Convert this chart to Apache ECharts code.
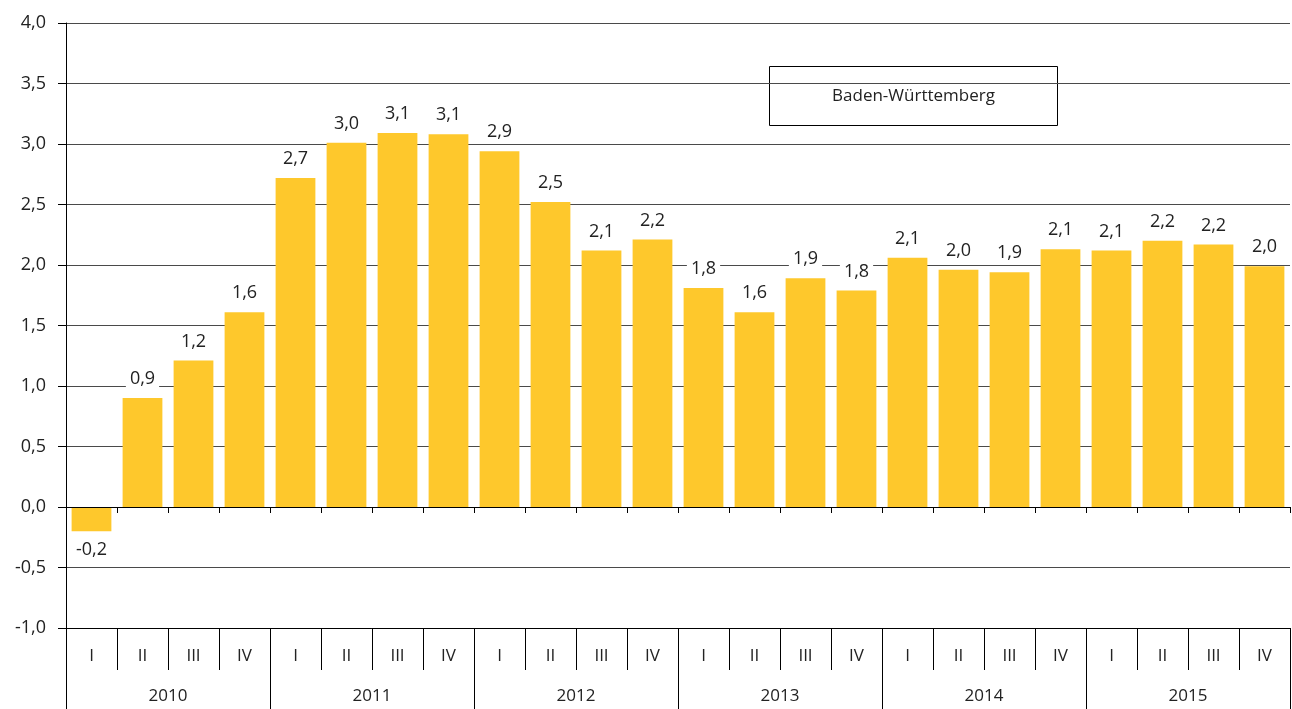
<!DOCTYPE html>
<html>
<head>
<meta charset="utf-8">
<script src="https://cdn.jsdelivr.net/npm/echarts@6/dist/echarts.min.js"></script>
<style>html,body{margin:0;padding:0;background:#fff;}#c{width:1292px;height:709px;}</style>
</head>
<body>
<div id="c"></div>
<script>
const years = ['2010','2011','2012','2013','2014','2015'];
const quarters = ['I','II','III','IV'];
const values = [-0.2, 0.90, 1.21, 1.61, 2.72, 3.01, 3.09, 3.08, 2.94, 2.52, 2.12, 2.21,
                1.81, 1.61, 1.89, 1.79, 2.06, 1.96, 1.94, 2.13, 2.12, 2.20, 2.17, 1.99];
const seriesName = 'Baden-Württemberg';
const yTicks = {min: -1, max: 4, interval: 0.5};

const categories = [];
years.forEach(y => quarters.forEach(q => categories.push(y + ' ' + q)));
const fmt = v => v.toFixed(1).replace('.', ',');
const FONT = '"Open Sans", "Noto Sans", sans-serif';
const TXT = '#222';

const chart = echarts.init(document.getElementById('c'));
chart.setOption({
  animation: false,
  backgroundColor: '#fff',
  grid: {left: 66, right: 2, top: 23, bottom: 81, containLabel: false},
  xAxis: [
    {
      type: 'category', data: categories, position: 'bottom',
      axisLine: {onZero: true, lineStyle: {color: '#000', width: 1}},
      axisTick: {show: true, interval: 0, length: 6, lineStyle: {color: '#000', width: 1}},
      axisLabel: {show: false, interval: 0},
      splitLine: {show: false}, z: 5
    },
    {
      type: 'category', data: categories.map((c, i) => quarters[i % 4]), position: 'bottom',
      axisLine: {onZero: false, lineStyle: {color: '#000', width: 1}},
      axisTick: {show: true, interval: 0, length: 42, lineStyle: {color: '#000'}},
      axisLabel: {show: true, interval: 0, margin: 20, fontSize: 17, color: TXT, fontFamily: FONT},
      splitLine: {show: false}
    },
    {
      type: 'category', data: years, position: 'bottom',
      axisLine: {onZero: false, show: false},
      axisTick: {show: true, interval: 0, length: 81, lineStyle: {color: '#000'}},
      axisLabel: {show: true, interval: 0, margin: 60, fontSize: 17, color: TXT, fontFamily: FONT},
      splitLine: {show: false}
    }
  ],
  yAxis: {
    type: 'value', min: yTicks.min, max: yTicks.max, interval: yTicks.interval,
    axisLine: {show: true, lineStyle: {color: '#000'}},
    axisTick: {show: true, length: 8, lineStyle: {color: '#000'}},
    axisLabel: {formatter: v => fmt(v), fontSize: 18, color: TXT, fontFamily: FONT, margin: 20},
    splitLine: {show: true, lineStyle: {color: '#4a4a4a', width: 1}}
  },
  series: [{
    name: seriesName, type: 'bar', xAxisIndex: 0,
    data: values.map(v => ({
      value: v,
      label: {position: v < 0 ? 'bottom' : 'top'}
    })),
    barCategoryGap: '22%',
    itemStyle: {color: '#fec82c'},
    label: {
      show: true, formatter: p => fmt(p.value), fontSize: 18, color: TXT, fontFamily: FONT,
      backgroundColor: '#fff', padding: [2, 4], distance: 8
    },
    z: 2
  }],
  graphic: [{
    type: 'group', left: 769, top: 66,
    children: [
      {type: 'rect', shape: {x: 0, y: 0, width: 288, height: 59},
       style: {fill: '#fff', stroke: '#000', lineWidth: 1}},
      {type: 'text', x: 144, y: 30,
       style: {text: seriesName, fill: TXT, font: '17px ' + FONT, align: 'center', verticalAlign: 'middle'}}
    ]
  }]
});
</script>
</body>
</html>
